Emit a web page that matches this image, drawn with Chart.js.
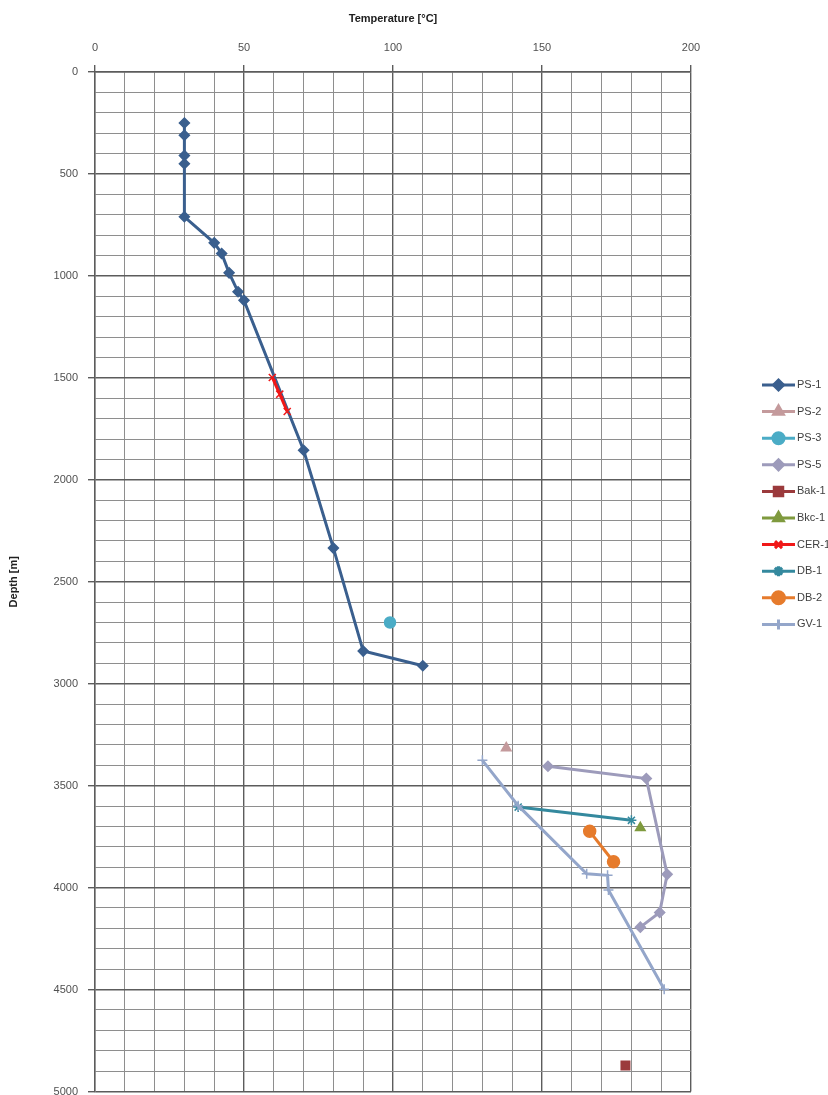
<!DOCTYPE html>
<html>
<head>
<meta charset="utf-8">
<script src="https://cdn.jsdelivr.net/npm/chart.js@4.4.1/dist/chart.umd.min.js"></script>
<style>
  html, body { margin: 0; padding: 0; background: #ffffff; overflow: hidden; }
  #wrap { width: 828px; height: 1095px; position: relative; overflow: hidden; }
  #chart { position: absolute; left: 0; top: 0; }
</style>
</head>
<body>
<div id="wrap"><canvas id="chart" width="828" height="1099"></canvas></div>
<script>
// Well temperature profiles: temperature [°C] against depth [m]
const seriesNames = ['PS-1', 'PS-2', 'PS-3', 'PS-5', 'Bak-1', 'Bkc-1', 'CER-1', 'DB-1', 'DB-2', 'GV-1'];

const ps1Temp  = [30, 30, 30, 30, 30, 40, 42.5, 45, 48, 50, 70, 80, 90, 110];
const ps1Depth = [250, 310, 410, 450, 710, 838, 890, 985, 1078, 1120, 1855, 2335, 2840, 2912];

const ps2Temp  = [138];
const ps2Depth = [3315];

const ps3Temp  = [99];
const ps3Depth = [2700];

const ps5Temp  = [152, 185, 192, 189.5, 183];
const ps5Depth = [3405, 3465, 3935, 4122, 4194];

const bak1Temp  = [178];
const bak1Depth = [4872];

const bkc1Temp  = [183];
const bkc1Depth = [3707];

const cer1Temp  = [59.5, 62, 64.5];
const cer1Depth = [1498, 1580, 1665];

const db1Temp  = [142, 180];
const db1Depth = [3605, 3670];

const db2Temp  = [166, 174];
const db2Depth = [3724, 3873];

const gv1Temp  = [130, 142, 165, 172, 172.3, 191];
const gv1Depth = [3376, 3598, 3932, 3940, 4012, 4498];

const tempTicks  = [0, 50, 100, 150, 200];
const depthTicks = [0, 500, 1000, 1500, 2000, 2500, 3000, 3500, 4000, 4500, 5000];

function pairs(xs, ys) {
  return xs.map((x, i) => ({ x: x, y: ys[i] }));
}

const seriesData = [
  pairs(ps1Temp, ps1Depth), pairs(ps2Temp, ps2Depth), pairs(ps3Temp, ps3Depth),
  pairs(ps5Temp, ps5Depth), pairs(bak1Temp, bak1Depth), pairs(bkc1Temp, bkc1Depth),
  pairs(cer1Temp, cer1Depth), pairs(db1Temp, db1Depth), pairs(db2Temp, db2Depth),
  pairs(gv1Temp, gv1Depth)
];

const styles = [
  { color: '#3a5f8e', point: 'rectRot',  radius: 5,   width: 3 },
  { color: '#c49a9c', point: 'triangle', radius: 5.5, width: 3 },
  { color: '#4bacc6', point: 'circle',   radius: 5.5, width: 3 },
  { color: '#9d9bbb', point: 'rectRot',  radius: 5,   width: 3 },
  { color: '#9b3a3c', point: 'rect',     radius: 6,   width: 3 },
  { color: '#7f9a3e', point: 'triangle', radius: 5.5, width: 3 },
  { color: '#f01818', point: 'crossRot', radius: 5,   width: 3 },
  { color: '#34899e', point: 'star',     radius: 5,   width: 3 },
  { color: '#e67b2c', point: 'circle',   radius: 6,   width: 3 },
  { color: '#94a6ca', point: 'cross',    radius: 5,   width: 3 }
];

const datasets = seriesNames.map((name, i) => ({
  label: name,
  data: seriesData[i],
  showLine: true,
  borderColor: styles[i].color,
  backgroundColor: styles[i].color,
  borderWidth: styles[i].width,
  pointStyle: styles[i].point,
  pointRadius: styles[i].radius,
  pointBorderWidth: 1.5,
  pointBorderColor: styles[i].color,
  pointBackgroundColor: styles[i].color,
  tension: 0,
  order: seriesNames.length - i
}));

// Legend drawn at the right side: a short line with the series marker, then the name
const sideLegend = {
  id: 'sideLegend',
  afterDraw(chart) {
    const ctx = chart.ctx;
    const x0 = 762, x1 = 795, yStart = 385, step = 26.6;
    ctx.save();
    chart.data.datasets.forEach((ds, i) => {
      const y = yStart + i * step;
      ctx.strokeStyle = ds.borderColor;
      ctx.lineWidth = ds.borderWidth;
      ctx.beginPath();
      ctx.moveTo(x0, y);
      ctx.lineTo(x1, y);
      ctx.stroke();
      ctx.fillStyle = ds.backgroundColor;
      Chart.helpers.drawPoint(ctx, {
        pointStyle: ds.pointStyle,
        radius: ds.pointRadius,
        borderWidth: 1.5,
        rotation: 0
      }, (x0 + x1) / 2, y);
      ctx.fillStyle = '#404040';
      ctx.font = '11px "Liberation Sans", Arial, sans-serif';
      ctx.textAlign = 'left';
      ctx.textBaseline = 'middle';
      ctx.fillText(ds.label, x1 + 2, y);
    });
    ctx.restore();
  }
};

const isMajor = (v, step) => Math.abs(v % step) < 1e-6;

new Chart(document.getElementById('chart'), {
  type: 'scatter',
  data: { datasets: datasets },
  plugins: [sideLegend],
  options: {
    responsive: false,
    animation: false,
    devicePixelRatio: 1,
    layout: { padding: { left: 0, top: 0, right: 137, bottom: 0 } },
    plugins: {
      legend: { display: false },
      tooltip: { enabled: false }
    },
    scales: {
      x: {
        type: 'linear',
        position: 'top',
        min: tempTicks[0],
        max: tempTicks[tempTicks.length - 1],
        afterFit(scale) { scale.height = 72; scale.paddingLeft = 0; scale.paddingRight = 0; },
        afterBuildTicks(scale) {
          const t = [];
          for (let v = scale.min; v <= scale.max; v += 10) t.push({ value: v });
          scale.ticks = t;
        },
        ticks: {
          autoSkip: false,
          maxRotation: 0,
          padding: 10,
          color: '#505050',
          font: { family: '"Liberation Sans", Arial, sans-serif', size: 11 },
          callback: (v) => tempTicks.includes(v) ? String(v) : ''
        },
        grid: {
          color: (c) => isMajor(c.tick.value, 50) ? '#5c5c5c' : '#8e8e8e',
          lineWidth: (c) => isMajor(c.tick.value, 50) ? 1.4 : 1,
          tickColor: (c) => isMajor(c.tick.value, 50) ? '#5c5c5c' : 'rgba(0,0,0,0)',
          tickLength: 7
        },
        border: { color: '#5c5c5c', width: 1.4 },
        title: {
          display: true,
          text: 'Temperature [°C]',
          color: '#202020',
          font: { family: '"Liberation Sans", Arial, sans-serif', size: 11, weight: 'bold' },
          padding: { top: 12, bottom: 0 }
        }
      },
      y: {
        type: 'linear',
        reverse: true,
        min: depthTicks[0],
        max: depthTicks[depthTicks.length - 1],
        afterFit(scale) { scale.width = 95; scale.paddingTop = 0; scale.paddingBottom = 0; },
        afterBuildTicks(scale) {
          const t = [];
          for (let v = scale.min; v <= scale.max; v += 100) t.push({ value: v });
          scale.ticks = t;
        },
        ticks: {
          autoSkip: false,
          padding: 10,
          color: '#505050',
          font: { family: '"Liberation Sans", Arial, sans-serif', size: 11 },
          callback: (v) => depthTicks.includes(v) ? String(v) : ''
        },
        grid: {
          color: (c) => isMajor(c.tick.value, 500) ? '#5c5c5c' : '#8e8e8e',
          lineWidth: (c) => isMajor(c.tick.value, 500) ? 1.4 : 1,
          tickColor: (c) => isMajor(c.tick.value, 500) ? '#5c5c5c' : 'rgba(0,0,0,0)',
          tickLength: 7
        },
        border: { color: '#5c5c5c', width: 1.4 },
        title: {
          display: true,
          text: 'Depth [m]',
          color: '#202020',
          font: { family: '"Liberation Sans", Arial, sans-serif', size: 11, weight: 'bold' },
          padding: { top: 7, bottom: 0 }
        }
      }
    }
  }
});
</script>
</body>
</html>
